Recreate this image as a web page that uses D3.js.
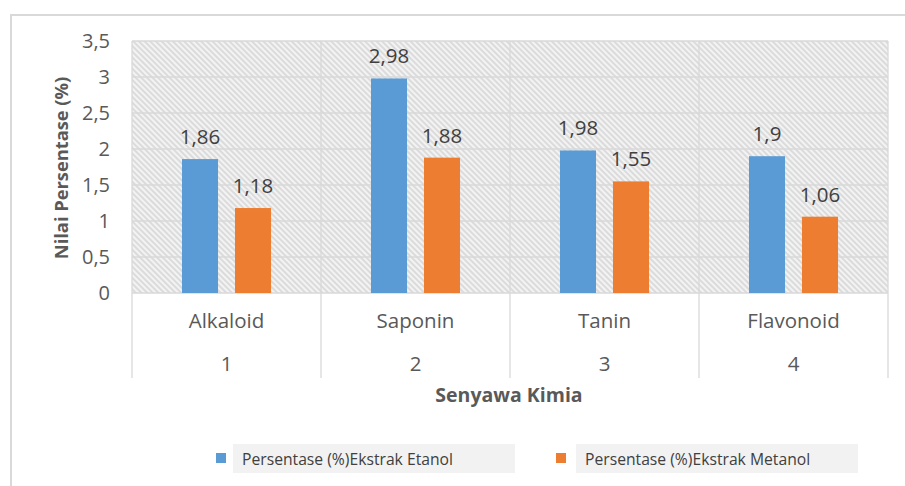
<!DOCTYPE html>
<html><head><meta charset="utf-8">
<script src="https://cdn.jsdelivr.net/npm/d3@7"></script>
<style>body{margin:0;background:#fff}svg{display:block}text{font-family:"Open Sans",sans-serif}</style>
</head><body>
<svg id="c" width="905" height="486"></svg>
<script>
const categories = ["Alkaloid","Saponin","Tanin","Flavonoid"];
const categoryNumbers = ["1","2","3","4"];
const seriesNames = ["Persentase (%)Ekstrak Etanol","Persentase (%)Ekstrak Metanol"];
const etanol = [1.86, 2.98, 1.98, 1.9];
const metanol = [1.18, 1.88, 1.55, 1.06];
const yTicks = [0,0.5,1,1.5,2,2.5,3,3.5];
const colors = ["#5b9bd5","#ed7d31"];

const svg = d3.select("#c");
const L=132,R=888,T=41,B=293;
const fmt = v => String(v).replace(".", ",");

svg.append("rect").attr("x",11).attr("y",15).attr("width",1000).attr("height",1000)
  .attr("fill","#fff").attr("stroke","#d9d9d9").attr("stroke-width",2);

const defs = svg.append("defs");
const pat = defs.append("pattern").attr("id","hatch").attr("patternUnits","userSpaceOnUse")
  .attr("width",4).attr("height",4).attr("patternTransform","rotate(-45)");
pat.append("rect").attr("width",4).attr("height",4).attr("fill","#f3f3f3");
pat.append("line").attr("x1",1).attr("y1",0).attr("x2",1).attr("y2",4)
  .attr("stroke","#cfcfcf").attr("stroke-width",1.3);

const x0 = d3.scaleBand().domain(categories).range([L,R]).padding(0);
const x1 = d3.scaleBand().domain(seriesNames).range([0,x0.bandwidth()]).paddingInner(0.32).paddingOuter(0.943);
const y = d3.scaleLinear().domain([0,3.5]).range([B,T]);

svg.append("rect").attr("x",L).attr("y",T).attr("width",R-L).attr("height",B-T).attr("fill","url(#hatch)");

svg.append("g").selectAll("line").data(yTicks).join("line")
  .attr("x1",L).attr("x2",R).attr("y1",d=>y(d)).attr("y2",d=>y(d))
  .attr("stroke","#d9d9d9").attr("stroke-width",1.3);
const seps = categories.map(c=>x0(c)).concat([R]);
svg.append("g").selectAll("line").data(seps).join("line")
  .attr("x1",d=>d).attr("x2",d=>d).attr("y1",T).attr("y2",378)
  .attr("stroke","#d9d9d9").attr("stroke-width",1.3);

svg.append("g").selectAll("text").data(yTicks).join("text")
  .attr("x",110).attr("y",d=>y(d)).attr("dy","0.35em").attr("text-anchor","end")
  .attr("font-size",20).attr("fill","#595959").text(fmt);

const seriesData = [etanol, metanol];
seriesNames.forEach((s,si)=>{
  const g = svg.append("g");
  g.selectAll("rect").data(categories).join("rect")
    .attr("x",c=>x0(c)+x1(s)).attr("width",x1.bandwidth())
    .attr("y",(c,i)=>y(seriesData[si][i])).attr("height",(c,i)=>B-y(seriesData[si][i]))
    .attr("fill",colors[si]);
  g.selectAll("text").data(categories).join("text")
    .attr("x",c=>x0(c)+x1(s)+x1.bandwidth()/2)
    .attr("y",(c,i)=>y(seriesData[si][i])-15)
    .attr("text-anchor","middle").attr("font-size",20.5).attr("fill","#404040")
    .text((c,i)=>fmt(seriesData[si][i]));
});

svg.append("g").selectAll("text").data(categories).join("text")
  .attr("x",c=>x0(c)+x0.bandwidth()/2).attr("y",328).attr("text-anchor","middle")
  .attr("font-size",20.5).attr("fill","#595959").text(d=>d);
svg.append("g").selectAll("text").data(categoryNumbers).join("text")
  .attr("x",(d,i)=>x0(categories[i])+x0.bandwidth()/2).attr("y",371).attr("text-anchor","middle")
  .attr("font-size",20.5).attr("fill","#595959").text(d=>d);

svg.append("text").attr("x",509).attr("y",402).attr("text-anchor","middle")
  .attr("font-size",19.5).attr("font-weight","bold").attr("fill","#595959").text("Senyawa Kimia");
svg.append("text").attr("transform","translate(68,168) rotate(-90)").attr("text-anchor","middle")
  .attr("font-size",18.3).attr("font-weight","bold").attr("fill","#595959").text("Nilai Persentase (%)");

const legX = [216,556], boxX=[233,576], boxW=[282,282];
seriesNames.forEach((s,i)=>{
  svg.append("rect").attr("x",boxX[i]).attr("y",444).attr("width",boxW[i]).attr("height",29).attr("fill","#f2f2f2");
  svg.append("rect").attr("x",legX[i]).attr("y",453).attr("width",10).attr("height",10).attr("fill",colors[i]);
  svg.append("text").attr("x",boxX[i]+9).attr("y",465).attr("font-size",15.7).attr("fill","#404040").text(s);
});
</script>
</body></html>
